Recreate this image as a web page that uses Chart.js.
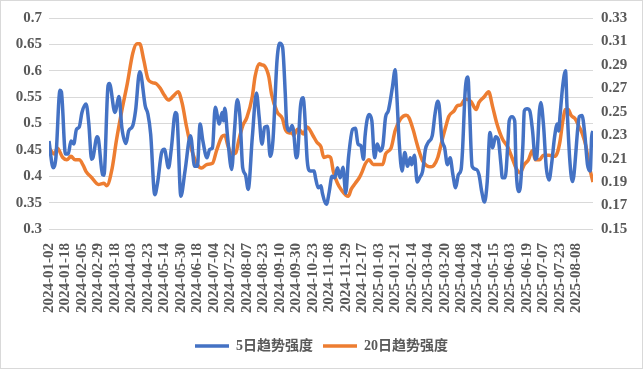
<!DOCTYPE html>
<html>
<head>
<meta charset="utf-8">
<script src="https://cdn.jsdelivr.net/npm/chart.js@4.4.1/dist/chart.umd.min.js"></script>
<style>
  html, body { margin: 0; padding: 0; background: #fff; }
  canvas { display: block; }
</style>
</head>
<body>
<canvas id="chart" width="643" height="369"></canvas>
<script>
// x tick labels, one every 12 trading days
const dateLabels = [
    '2024-01-02', '2024-01-18', '2024-02-05', '2024-02-29', '2024-03-18', '2024-04-03',
    '2024-04-23', '2024-05-14', '2024-05-30', '2024-06-18', '2024-07-04', '2024-07-22',
    '2024-08-07', '2024-08-23', '2024-09-10', '2024-09-30', '2024-10-23', '2024-11-08',
    '2024-11-29', '2024-12-17', '2025-01-03', '2025-01-21', '2025-02-14', '2025-03-04',
    '2025-03-20', '2025-04-08', '2025-04-24', '2025-05-15', '2025-06-03', '2025-06-19',
    '2025-07-07', '2025-07-23', '2025-08-08'
];
const lastDay = 396;

// 5日趋势强度 (left axis): trading-day index and value
const blueDays = [
    0, 3, 5, 8, 9, 12, 14, 16, 18, 20, 22, 24, 27, 29, 31, 32, 35, 36, 39, 40,
    43, 44, 48, 51, 53, 56, 58, 61, 63, 66, 67, 70, 72, 74, 77, 79, 82, 84, 87, 89,
    92, 93, 96, 99, 103, 106, 108, 110, 112, 115, 117, 119, 121, 124, 126, 127, 128, 130, 133, 135,
    137, 139, 141, 143, 145, 148, 151, 153, 155, 157, 159, 161, 163, 166, 168, 170, 172, 173, 175, 177,
    178, 180, 181, 183, 185, 186, 188, 190, 193, 194, 196, 198, 199, 202, 204, 206, 208, 210, 212, 214,
    216, 218, 221, 223, 225, 227, 229, 230, 233, 235, 237, 239, 241, 243, 245, 247, 250, 252, 253, 255,
    257, 259, 261, 263, 264, 266, 268, 270, 272, 274, 276, 279, 281, 283, 284, 286, 288, 290, 292, 294,
    296, 298, 300, 301, 303, 305, 306, 308, 311, 313, 315, 317, 319, 321, 323, 325, 327, 329, 330, 332,
    334, 335, 337, 339, 340, 342, 343, 345, 346, 348, 350, 352, 354, 355, 357, 358, 360, 362, 364, 366,
    368, 370, 371, 372, 374, 376, 377, 379, 381, 382, 385, 386, 388, 390, 392, 394, 395, 396
];
const blueValues = [
    0.467, 0.416, 0.435, 0.563, 0.560, 0.442, 0.442, 0.467, 0.461, 0.489, 0.493, 0.521, 0.537, 0.499, 0.432, 0.435, 0.475, 0.470, 0.403, 0.402,
    0.572, 0.576, 0.521, 0.551, 0.493, 0.462, 0.486, 0.496, 0.524, 0.598, 0.592, 0.534, 0.518, 0.480, 0.365, 0.387, 0.445, 0.451, 0.416, 0.451,
    0.521, 0.518, 0.362, 0.410, 0.477, 0.419, 0.419, 0.499, 0.467, 0.435, 0.451, 0.454, 0.531, 0.499, 0.521, 0.505, 0.529, 0.474, 0.413, 0.486,
    0.545, 0.512, 0.416, 0.403, 0.375, 0.474, 0.558, 0.512, 0.461, 0.493, 0.495, 0.438, 0.467, 0.620, 0.652, 0.645, 0.556, 0.499, 0.486, 0.496,
    0.486, 0.435, 0.442, 0.531, 0.549, 0.524, 0.429, 0.410, 0.410, 0.397, 0.378, 0.382, 0.368, 0.347, 0.371, 0.400, 0.397, 0.416, 0.397, 0.417,
    0.368, 0.435, 0.489, 0.491, 0.461, 0.458, 0.432, 0.474, 0.517, 0.505, 0.435, 0.461, 0.448, 0.458, 0.512, 0.524, 0.569, 0.602, 0.563, 0.461,
    0.410, 0.445, 0.419, 0.435, 0.422, 0.440, 0.389, 0.398, 0.410, 0.451, 0.464, 0.477, 0.518, 0.542, 0.534, 0.470, 0.454, 0.422, 0.435, 0.403,
    0.378, 0.403, 0.413, 0.448, 0.563, 0.588, 0.537, 0.419, 0.413, 0.403, 0.371, 0.351, 0.390, 0.483, 0.454, 0.475, 0.470, 0.422, 0.397, 0.397,
    0.461, 0.505, 0.513, 0.505, 0.416, 0.371, 0.378, 0.461, 0.524, 0.528, 0.524, 0.486, 0.432, 0.435, 0.524, 0.540, 0.496, 0.416, 0.393, 0.426,
    0.474, 0.499, 0.486, 0.515, 0.572, 0.600, 0.537, 0.435, 0.390, 0.400, 0.493, 0.513, 0.515, 0.480, 0.422, 0.410, 0.474, 0.486
];

// 20日趋势强度 (right axis)
const orangeDays = [
    0, 4, 6, 10, 13, 16, 19, 22, 25, 27, 31, 36, 40, 42, 46, 49, 53, 57, 61, 64,
    66, 69, 72, 75, 78, 81, 84, 87, 91, 94, 97, 100, 104, 108, 111, 115, 119, 122, 126, 128,
    130, 133, 136, 138, 141, 144, 148, 150, 153, 155, 157, 160, 162, 166, 170, 172, 175, 177, 178, 181,
    183, 185, 188, 192, 195, 198, 200, 203, 205, 207, 210, 213, 216, 218, 220, 223, 226, 228, 230, 233,
    236, 240, 243, 245, 249, 252, 256, 260, 262, 265, 268, 272, 275, 278, 280, 283, 286, 289, 291, 295,
    297, 300, 303, 307, 311, 313, 317, 320, 323, 326, 330, 334, 337, 340, 343, 346, 349, 352, 354, 357,
    360, 364, 368, 370, 372, 374, 376, 378, 380, 383, 386, 388, 391, 393, 396
];
const orangeValues = [
    0.219, 0.214, 0.219, 0.211, 0.209, 0.212, 0.209, 0.209, 0.204, 0.199, 0.194, 0.188, 0.189, 0.187, 0.202, 0.225, 0.251, 0.274, 0.300, 0.308,
    0.308, 0.294, 0.278, 0.275, 0.274, 0.270, 0.264, 0.260, 0.264, 0.267, 0.257, 0.238, 0.217, 0.205, 0.202, 0.205, 0.206, 0.217, 0.229, 0.230,
    0.222, 0.214, 0.215, 0.225, 0.238, 0.245, 0.263, 0.280, 0.291, 0.290, 0.289, 0.280, 0.265, 0.250, 0.244, 0.235, 0.232, 0.232, 0.230, 0.235,
    0.234, 0.231, 0.237, 0.230, 0.224, 0.220, 0.211, 0.212, 0.211, 0.199, 0.189, 0.183, 0.179, 0.178, 0.184, 0.189, 0.194, 0.199, 0.205, 0.209,
    0.205, 0.205, 0.205, 0.214, 0.219, 0.234, 0.244, 0.247, 0.245, 0.235, 0.222, 0.208, 0.204, 0.203, 0.204, 0.211, 0.225, 0.238, 0.246, 0.251,
    0.255, 0.256, 0.261, 0.259, 0.252, 0.258, 0.263, 0.267, 0.254, 0.240, 0.227, 0.220, 0.211, 0.202, 0.198, 0.205, 0.209, 0.217, 0.209, 0.209,
    0.213, 0.213, 0.212, 0.215, 0.225, 0.242, 0.252, 0.252, 0.247, 0.244, 0.237, 0.232, 0.220, 0.205, 0.190
];

const blueColor = '#4472C4';
const orangeColor = '#ED7D31';
const textColor = '#595959';
const gridColor = '#D9D9D9';
const tickFont = { family: "'Liberation Serif', 'Times New Roman', serif", size: 15, weight: 'bold' };

const toPoints = (days, values) => days.map((d, i) => ({ x: d, y: values[i] }));

const frame = {
    id: 'frame',
    afterDraw(chart) {
        const ctx = chart.ctx;
        ctx.save();
        ctx.strokeStyle = gridColor;
        ctx.lineWidth = 1;
        ctx.strokeRect(0.5, 0.5, chart.width - 1, chart.height - 1);
        ctx.restore();
    }
};

const ctx = document.getElementById('chart').getContext('2d');
new Chart(ctx, {
    type: 'line',
    data: {
        datasets: [
            {
                label: '5日趋势强度',
                data: toPoints(blueDays, blueValues),
                borderColor: blueColor,
                backgroundColor: blueColor,
                borderWidth: 3.5,
                cubicInterpolationMode: 'monotone',
                yAxisID: 'y',
            },
            {
                label: '20日趋势强度',
                data: toPoints(orangeDays, orangeValues),
                borderColor: orangeColor,
                backgroundColor: orangeColor,
                borderWidth: 3.5,
                cubicInterpolationMode: 'monotone',
                yAxisID: 'y1',
            },
        ],
    },
    options: {
        responsive: false,
        animation: false,
        devicePixelRatio: 1,
        layout: { padding: { top: 18, bottom: 6, left: 0, right: 0 } },
        elements: { point: { radius: 0 } },
        plugins: {
            tooltip: { enabled: false },
            legend: {
                position: 'bottom',
                labels: {
                    color: textColor,
                    boxWidth: 34,
                    boxHeight: 0,
                    padding: 10,
                    font: { family: "'Liberation Serif', 'Noto Sans CJK SC', serif", size: 14, weight: 'bold' },
                },
            },
        },
        scales: {
            x: {
                type: 'linear',
                min: 0,
                max: lastDay,
                grid: { display: false },
                border: { display: false },
                afterFit: s => { s.height = 100; },
                ticks: {
                    stepSize: 12,
                    autoSkip: false,
                    minRotation: 90,
                    maxRotation: 90,
                    padding: 6,
                    color: textColor,
                    font: tickFont,
                    callback: v => dateLabels[v / 12] || '',
                },
            },
            y: {
                position: 'left',
                min: 0.3,
                max: 0.7,
                grid: { color: gridColor, drawTicks: false },
                border: { display: false },
                afterFit: s => { s.width = 49; },
                ticks: {
                    stepSize: 0.05,
                    padding: 7,
                    color: textColor,
                    font: tickFont,
                    callback: v => String(Number(v.toFixed(2))),
                },
            },
            y1: {
                position: 'right',
                min: 0.15,
                max: 0.33,
                grid: { drawOnChartArea: false, drawTicks: false },
                border: { display: false },
                afterFit: s => { s.width = 50; },
                ticks: {
                    stepSize: 0.02,
                    padding: 8,
                    color: textColor,
                    font: tickFont,
                    callback: v => v.toFixed(2),
                },
            },
        },
    },
    plugins: [frame],
});
</script>
</body>
</html>
